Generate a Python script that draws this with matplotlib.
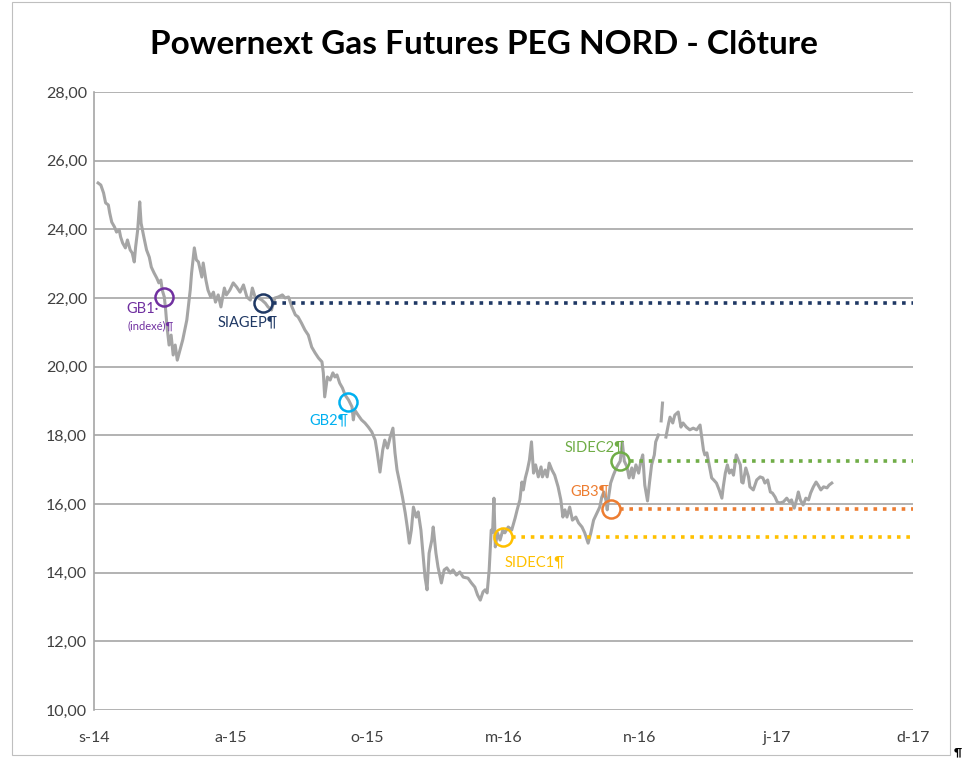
import numpy as np
import pandas as pd
import matplotlib
matplotlib.use('Agg')
import matplotlib.pyplot as plt
from matplotlib.patches import Rectangle

# Cours de clôture PEG NORD (jours comptés depuis le 15/09/2014)
jours = [6, 10, 14, 17, 21, 23, 26, 30, 33, 37,
         39, 42, 46, 49, 53, 56, 59, 61, 64, 67,
         69, 73, 77, 81, 84, 88, 92, 95, 98, 100,
         103, 105, 107, 110, 113, 116, 119, 122, 126, 130,
         136, 141, 143, 147, 150, 153, 158, 160, 164, 167,
         171, 175, 178, 182, 186, 191, 194, 199, 204, 209,
         214, 219, 224, 229, 232, 236, 241, 246, 251, 255,
         260, 265, 270, 276, 280, 285, 290, 295, 299, 304,
         309, 314, 319, 324, 329, 334, 336, 338, 342, 346,
         350, 353, 356, 360, 364, 368, 373, 378, 380, 382,
         387, 392, 397, 402, 407, 412, 415, 419, 423, 426,
         430, 434, 438, 441, 444, 448, 452, 456, 459, 462,
         465, 468, 472, 475, 479, 482, 485, 488, 491, 495,
         497, 501, 504, 509, 513, 517, 522, 526, 531, 536,
         541, 548, 553, 558, 562, 566, 570, 573, 576, 579,
         582, 584, 586, 588, 591, 595, 599, 602, 607, 612,
         617, 620, 624, 627, 629, 632, 635, 638, 641, 644,
         647, 651, 655, 657, 661, 664, 667, 671, 675, 680,
         684, 687, 690, 693, 697, 701, 706, 710, 715, 719,
         724, 728, 732, 737, 741, 744, 747, 750, 752, 754,
         757, 761, 766, 771, 774, 777, 781, 784, 788, 790,
         794, 798, 801, 804, 807, 811, 814, 817, 821, 823,
         827, 829, 831, 833, 835, 838, 842, 844, 848, 851,
         856, 860, 863, 868, 873, 878, 883, 888, 890, 893,
         895, 898, 902, 905, 908, 912, 916, 920, 922, 925,
         928, 931, 934, 937, 941, 944, 947, 949, 951, 955,
         959, 961, 966, 971, 976, 980, 983, 987, 991, 994,
         998, 1001, 1005, 1010, 1015, 1019, 1022, 1026, 1030, 1032,
         1035, 1039, 1043, 1047, 1050, 1054, 1058, 1061, 1065, 1069,
         1074, 1077, 1081]

cloture = [25.35, 25.29, 25.06, 24.77, 24.71, 24.48, 24.21, 24.07, 23.92, 23.98,
           23.78, 23.60, 23.46, 23.69, 23.40, 23.31, 23.05, 23.49, 23.98, 24.80,
           24.18, 23.78, 23.40, 23.19, 22.90, 22.73, 22.58, 22.44, 22.52, 22.23,
           22.03, 21.65, 21.16, 20.63, 20.92, 20.34, 20.63, 20.19, 20.49, 20.78,
           21.36, 22.23, 22.73, 23.46, 23.11, 23.05, 22.61, 23.02, 22.52, 22.23,
           22.03, 22.17, 21.88, 22.09, 21.74, 22.29, 22.09, 22.23, 22.44, 22.32,
           22.17, 22.38, 22.03, 21.94, 22.29, 22.03, 22.00, 21.94, 21.85, 21.74,
           21.65, 22.00, 22.03, 22.09, 22.00, 22.03, 21.74, 21.51, 21.45, 21.27,
           21.07, 20.92, 20.57, 20.40, 20.25, 20.14, 19.82, 19.12, 19.70, 19.61,
           19.82, 19.70, 19.76, 19.52, 19.38, 19.17, 19.03, 18.83, 18.45, 18.74,
           18.59, 18.45, 18.36, 18.24, 18.10, 17.86, 17.49, 16.93, 17.57, 17.86,
           17.63, 17.95, 18.21, 17.49, 16.99, 16.61, 16.20, 15.74, 15.33, 14.86,
           15.24, 15.91, 15.62, 15.77, 15.24, 14.57, 13.87, 13.50, 14.57, 14.95,
           15.33, 14.57, 14.17, 13.70, 14.08, 14.14, 13.99, 14.08, 13.93, 14.02,
           13.87, 13.84, 13.70, 13.58, 13.35, 13.20, 13.44, 13.50, 13.41, 14.08,
           15.24, 15.18, 16.17, 14.75, 15.16, 14.95, 15.24, 15.16, 15.33, 15.24,
           15.59, 15.83, 16.12, 16.64, 16.41, 16.76, 16.99, 17.28, 17.81, 16.90,
           17.14, 16.79, 17.08, 16.79, 16.99, 16.79, 17.19, 16.99, 16.84, 16.50,
           16.12, 15.62, 15.83, 15.62, 15.91, 15.53, 15.62, 15.45, 15.33, 15.16,
           14.86, 15.16, 15.53, 15.74, 15.91, 16.20, 16.35, 16.12, 15.83, 16.20,
           16.61, 16.84, 17.08, 17.25, 17.81, 17.25, 17.08, 16.76, 17.05, 16.76,
           17.14, 16.90, 17.22, 17.43, 16.55, 16.09, 16.64, 17.14, 17.43, 17.81,
           18.01, np.nan, 18.42, 18.94, np.nan, 17.95, 18.36, 18.53, 18.36, 18.59,
           18.68, 18.24, 18.36, 18.24, 18.16, 18.21, 18.16, 18.30, 18.01, 17.57,
           17.43, 17.49, 17.08, 16.76, 16.70, 16.61, 16.41, 16.17, 16.50, 16.90,
           17.14, 16.90, 16.99, 16.84, 17.43, 17.28, 17.14, 16.64, 16.61, 17.05,
           16.79, 16.50, 16.41, 16.70, 16.79, 16.76, 16.61, 16.70, 16.35, 16.32,
           16.20, 16.06, 16.03, 16.06, 16.17, 16.06, 16.12, 15.88, 16.17, 16.35,
           16.12, 15.97, 16.17, 16.12, 16.32, 16.50, 16.64, 16.55, 16.41, 16.50,
           16.47, 16.55, 16.61]

# Contrats signés
etiquettes = ['GB1·', 'SIAGEP¶', 'GB2¶', 'SIDEC1¶', 'GB3¶', 'SIDEC2¶']
jours_signature = [103, 248, 372, 599, 757, 771]
prix_signature = [22.03, 21.85, 18.97, 15.04, 15.85, 17.25]
prix_fixe = [False, True, False, True, True, True]
couleurs = ['#7030A0', '#1F3864', '#00B0F0', '#FFC000', '#ED7D31', '#70AD47']
decalages = [(-16, -9), (-11, -14), (-14, -13), (23, -18), (-15, 13), (-18, 10)]

mois = ['s-14', 'a-15', 'o-15', 'm-16', 'n-16', 'j-17', 'd-17']
valeurs_y = [10, 12, 14, 16, 18, 20, 22, 24, 26, 28]

plt.rcParams['font.family'] = ['Lato', 'DejaVu Sans']

debut = pd.Timestamp('2014-09-15')
fin = debut + pd.Timedelta(days=1200)
dates = debut + pd.to_timedelta(jours, unit='D')

fig = plt.figure(figsize=(9.65, 7.61), dpi=100)
ax = fig.add_axes([94/965, 1-710/761, (913-94)/965, (710-92)/761])

ax.plot(dates, cloture, color='#A5A5A5', lw=2.2, zorder=3)

for lab, j, p, fixe, c, dec in zip(etiquettes, jours_signature, prix_signature,
                                   prix_fixe, couleurs, decalages):
    d = debut + pd.Timedelta(days=j)
    ax.plot(d, p, 'o', ms=13, mfc='none', mec=c, mew=1.8, zorder=5)
    if fixe:
        ax.plot([d + pd.Timedelta(days=14), fin], [p, p], color=c, lw=2.6,
                ls=(0, (1, 1.6)), dash_capstyle='butt', zorder=4)
    ax.annotate(lab, (d, p), xytext=dec, textcoords='offset points',
                ha='center', va='center', color=c, fontsize=10.5)

# sous-titre du GB1
ax.annotate('(indexé)¶', (debut + pd.Timedelta(days=jours_signature[0]), prix_signature[0]),
            xytext=(-10, -21), textcoords='offset points', ha='center', va='center',
            color=couleurs[0], fontsize=8)

ax.set_xlim(debut, fin)
ax.set_ylim(10, 28)
ax.set_xticks([debut + pd.Timedelta(days=200*k) for k in range(len(mois))])
ax.set_xticklabels(mois)
ax.set_yticks(valeurs_y)
ax.set_yticklabels(['{:.2f}'.format(v).replace('.', ',') for v in valeurs_y])
ax.tick_params(axis='x', length=0, pad=15, labelsize=11.5, colors='#404040')
ax.tick_params(axis='y', length=0, pad=5, labelsize=11.5, colors='#404040')
ax.grid(axis='y', color='#A6A6A6', lw=1.2)
ax.set_axisbelow(True)
for s in ['top', 'right', 'bottom']:
    ax.spines[s].set_visible(False)
ax.spines['left'].set_color('#A6A6A6')
ax.spines['left'].set_linewidth(1.2)

fig.text(484/965, 1-45/761, 'Powernext Gas Futures PEG NORD - Clôture',
         ha='center', va='center', fontsize=24, fontweight='bold')
fig.text(962/965, 1-752/761, '¶', ha='right', va='center', fontsize=8, fontweight='bold')
fig.patches.append(Rectangle((12/965, 1-755/761), (950-12)/965, (755-2)/761,
                             transform=fig.transFigure, fill=False, ec='#BFBFBF', lw=0.8))

fig.savefig('out.png', dpi=100)
